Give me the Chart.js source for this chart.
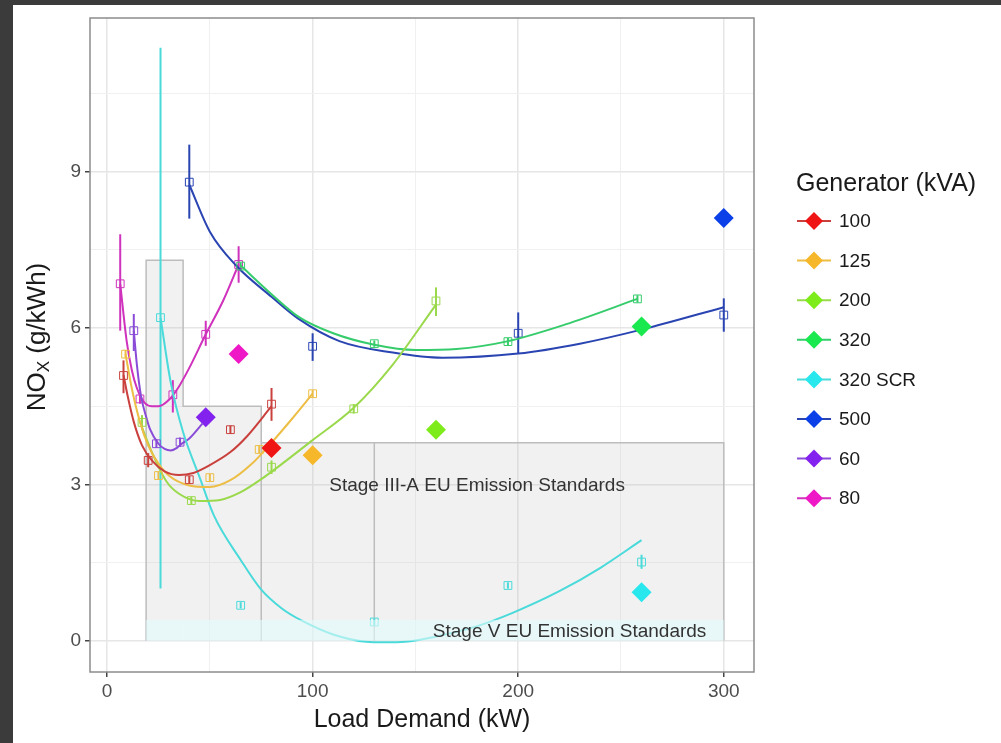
<!DOCTYPE html>
<html>
<head>
<meta charset="utf-8">
<script src="https://cdn.jsdelivr.net/npm/chart.js@4.4.0/dist/chart.umd.min.js"></script>
<style>
  html, body { margin: 0; padding: 0; background: #3b3b3b; overflow: hidden; }
  #frame { position: absolute; left: 13px; top: 5px; width: 988px; height: 738px; background: #fff; }
  #wrap { position: absolute; left: 0; top: 0; width: 1001px; height: 743px; }
</style>
</head>
<body>
<div id="frame"></div>
<div id="wrap"><canvas id="chartCanvas"></canvas></div>
<script>
// Generators (legend order)
const generators = ['100', '125', '200', '320', '320 SCR', '500', '60', '80'];

// Measured points (small squares) and their error bars
const pointX = [
  [8, 20, 40, 60, 80],
  [9, 25, 50, 74, 100],
  [17, 41, 80, 120, 160],
  [65, 130, 195, 258],
  [26, 65, 130, 195, 260],
  [40, 100, 200, 300],
  [13, 24, 35.5],
  [6.4, 16, 32, 48, 64]
];
const pointY = [
  [5.09, 3.46, 3.09, 4.05, 4.54],
  [5.5, 3.17, 3.13, 3.67, 4.74],
  [4.19, 2.69, 3.33, 4.45, 6.52],
  [7.19, 5.7, 5.74, 6.56],
  [6.2, 0.68, 0.36, 1.06, 1.51],
  [8.8, 5.65, 5.9, 6.25],
  [5.95, 3.78, 3.81],
  [6.85, 4.64, 4.72, 5.88, 7.22]
];
const errLow = [
  [4.75, 3.33, 3.02, 3.97, 4.22],
  [5.42, 3.1, 3.06, 3.6, 4.67],
  [4.05, 2.62, 3.2, 4.36, 6.23],
  [7.12, 5.64, 5.67, 6.49],
  [1.0, 0.62, 0.3, 1.0, 1.38],
  [8.1, 5.37, 5.52, 5.93],
  [5.56, 3.7, 3.72],
  [5.95, 4.55, 4.38, 5.66, 6.87]
];
const errHigh = [
  [5.38, 3.6, 3.16, 4.13, 4.85],
  [5.58, 3.24, 3.2, 3.74, 4.81],
  [4.33, 2.76, 3.46, 4.54, 6.78],
  [7.26, 5.76, 5.81, 6.63],
  [11.38, 0.74, 0.42, 1.12, 1.65],
  [9.52, 5.9, 6.3, 6.57],
  [6.27, 3.87, 3.9],
  [7.8, 4.73, 5.0, 6.14, 7.57]
];

// Fitted curves
const fitX = [
  [8, 10, 13, 17, 22, 28, 35, 42, 50, 60, 68, 80],
  [9, 12, 16, 20, 25, 30, 40, 50, 60, 70, 80, 90, 100],
  [16, 22, 29, 35, 45, 55, 65, 75, 100, 120, 139, 160],
  [65, 80, 93, 110, 130, 150, 170, 194, 223, 258],
  [26, 31, 37, 45, 52, 65, 75, 85, 95, 110, 126, 135, 145, 160, 180, 197, 220, 240, 260],
  [40, 50, 63, 80, 93, 113, 139, 163, 200, 230, 260, 300],
  [13, 14.5, 16.5, 19, 21, 25, 28, 31, 34, 36, 40, 46.5],
  [6.4, 9.5, 12, 14.4, 18.4, 22, 25, 30.5, 35, 40.2, 48, 56.4, 64]
];
const fitY = [
  [5.1, 4.7, 4.2, 3.75, 3.45, 3.25, 3.18, 3.22, 3.37, 3.62, 3.92, 4.5],
  [5.5, 4.85, 4.2, 3.75, 3.4, 3.17, 2.98, 2.95, 3.08, 3.38, 3.8, 4.26, 4.74],
  [4.2, 3.6, 3.05, 2.82, 2.68, 2.7, 2.85, 3.1, 3.85, 4.47, 5.3, 6.45],
  [7.2, 6.65, 6.22, 5.9, 5.68, 5.58, 5.6, 5.74, 6.07, 6.56],
  [6.2, 4.95, 4.0, 3.14, 2.4, 1.55, 0.98, 0.62, 0.38, 0.12, -0.02, -0.03, -0.02, 0.08, 0.28, 0.53, 0.95, 1.4, 1.93],
  [8.75, 7.85, 7.19, 6.6, 6.18, 5.75, 5.53, 5.43, 5.51, 5.7, 5.97, 6.4],
  [5.95, 5.3, 4.7, 4.3, 4.05, 3.78, 3.68, 3.65, 3.7, 3.77, 3.88, 4.17],
  [6.85, 5.76, 5.2, 4.86, 4.56, 4.5, 4.5, 4.64, 4.88, 5.25, 5.88, 6.52, 7.22]
];

// Large diamonds
const diamondX = [80, 100, 160, 260, 260, 300, 48, 64];
const diamondY = [3.7, 3.56, 4.05, 6.03, 0.93, 8.11, 4.29, 5.5];

// EU emission limits (kW band edges and NOx limit per band)
const stageEdges = [19, 37, 75, 130, 300];
const stageLimits = [7.3, 4.5, 3.8, 3.8];
const stageDividers = [75, 130];
const stageVLimit = 0.4;

const xTicks = [0, 100, 200, 300];
const yTicks = [0, 3, 6, 9];

const lineColors = ['#C9403C', '#EDBE45', '#9AD94C', '#36CC6C', '#4ADADA', '#2A45B2', '#8A4CD8', '#CF32BC'];
const fillColors = ['#F01515', '#F6B82A', '#7EEC1A', '#19E84F', '#28E8EE', '#0B3FE8', '#8322EE', '#EE18C6'];
const FONT = '"Liberation Sans", Arial, Helvetica, sans-serif';

const datasets = [];
generators.forEach((g, i) => {
  datasets.push({
    type: 'line',
    label: g + ' fit',
    data: fitX[i].map((x, k) => ({ x: x, y: fitY[i][k] })),
    borderColor: lineColors[i],
    borderWidth: 2,
    pointRadius: 0,
    cubicInterpolationMode: 'monotone',
    fill: false,
  });
  datasets.push({
    type: 'scatter',
    label: g + ' obs',
    data: pointX[i].map((x, k) => ({ x: x, y: pointY[i][k] })),
    pointStyle: 'rect',
    pointRadius: 5.5,
    borderColor: lineColors[i],
    backgroundColor: 'rgba(0,0,0,0)',
    borderWidth: 1,
  });
  datasets.push({
    type: 'scatter',
    label: g,
    data: [{ x: diamondX[i], y: diamondY[i] }],
    pointStyle: 'rectRot',
    pointRadius: 10,
    backgroundColor: fillColors[i],
    borderColor: fillColors[i],
    borderWidth: 0,
  });
});

const isMajorX = v => xTicks.includes(v);
const isMajorY = v => yTicks.includes(v);

const stagePlugin = {
  id: 'stages',
  beforeDatasetsDraw(chart) {
    const { ctx, chartArea, scales: { x, y } } = chart;
    ctx.save();
    ctx.beginPath();
    ctx.rect(chartArea.left, chartArea.top, chartArea.right - chartArea.left, chartArea.bottom - chartArea.top);
    ctx.clip();
    // fill the stage III-A bands
    ctx.fillStyle = 'rgba(190,190,190,0.22)';
    for (let i = 0; i < stageLimits.length; i++) {
      const x0 = x.getPixelForValue(stageEdges[i]);
      const x1 = x.getPixelForValue(stageEdges[i + 1]);
      const yt = y.getPixelForValue(stageLimits[i]);
      ctx.fillRect(x0, yt, x1 - x0, y.getPixelForValue(0) - yt);
    }
    // step outline
    ctx.strokeStyle = '#BDBDBD';
    ctx.lineWidth = 1.5;
    ctx.beginPath();
    ctx.moveTo(x.getPixelForValue(stageEdges[0]), y.getPixelForValue(0));
    for (let i = 0; i < stageLimits.length; i++) {
      ctx.lineTo(x.getPixelForValue(stageEdges[i]), y.getPixelForValue(stageLimits[i]));
      ctx.lineTo(x.getPixelForValue(stageEdges[i + 1]), y.getPixelForValue(stageLimits[i]));
    }
    ctx.lineTo(x.getPixelForValue(stageEdges[stageEdges.length - 1]), y.getPixelForValue(0));
    stageDividers.forEach(d => {
      ctx.moveTo(x.getPixelForValue(d), y.getPixelForValue(3.8));
      ctx.lineTo(x.getPixelForValue(d), y.getPixelForValue(0));
    });
    ctx.stroke();

    // error bars
    ctx.lineWidth = 2;
    generators.forEach((g, i) => {
      ctx.strokeStyle = lineColors[i];
      pointX[i].forEach((px, k) => {
        const xp = x.getPixelForValue(px);
        ctx.beginPath();
        ctx.moveTo(xp, y.getPixelForValue(errLow[i][k]));
        ctx.lineTo(xp, y.getPixelForValue(errHigh[i][k]));
        ctx.stroke();
      });
    });
    ctx.restore();
  },
  afterDatasetsDraw(chart) {
    const { ctx, scales: { x, y } } = chart;
    ctx.save();
    const x0 = x.getPixelForValue(stageEdges[0]);
    const x1 = x.getPixelForValue(stageEdges[stageEdges.length - 1]);
    const yt = y.getPixelForValue(stageVLimit);
    ctx.fillStyle = 'rgba(226,252,252,0.6)';
    ctx.fillRect(x0, yt, x1 - x0, y.getPixelForValue(0) - yt);

    ctx.fillStyle = '#333';
    ctx.font = '19px ' + FONT;
    ctx.textAlign = 'center';
    ctx.textBaseline = 'middle';
    ctx.fillText('Stage III-A EU Emission Standards', x.getPixelForValue(180), y.getPixelForValue(2.97));
    ctx.fillText('Stage V EU Emission Standards', x.getPixelForValue(225), y.getPixelForValue(0.17));
    ctx.restore();
  },
  afterDraw(chart) {
    const { ctx, chartArea } = chart;
    ctx.save();
    // panel border
    ctx.strokeStyle = '#8C8C8C';
    ctx.lineWidth = 1.5;
    ctx.strokeRect(chartArea.left, chartArea.top, chartArea.right - chartArea.left, chartArea.bottom - chartArea.top);

    // axis titles
    ctx.fillStyle = '#1a1a1a';
    ctx.textBaseline = 'middle';
    ctx.textAlign = 'center';
    ctx.font = '25px ' + FONT;
    ctx.fillText('Load Demand (kW)', (chartArea.left + chartArea.right) / 2, 720);

    ctx.save();
    ctx.translate(38, 337);
    ctx.rotate(-Math.PI / 2);
    ctx.textAlign = 'left';
    const big = '26px ' + FONT, small = '17px ' + FONT;
    ctx.font = big;
    const w1 = ctx.measureText('NO').width;
    const w3 = ctx.measureText(' (g/kWh)').width;
    ctx.font = small;
    const w2 = ctx.measureText('X').width;
    let sx = -(w1 + w2 + w3) / 2;
    ctx.font = big;
    ctx.fillText('NO', sx, 0);
    ctx.font = small;
    ctx.fillText('X', sx + w1, 6);
    ctx.font = big;
    ctx.fillText(' (g/kWh)', sx + w1 + w2, 0);
    ctx.restore();

    // legend
    ctx.textAlign = 'left';
    ctx.font = '25px ' + FONT;
    ctx.fillText('Generator (kVA)', 796, 184);
    ctx.font = '19px ' + FONT;
    generators.forEach((g, i) => {
      const cy = 221 + i * 39.6;
      ctx.strokeStyle = lineColors[i];
      ctx.lineWidth = 2;
      ctx.beginPath();
      ctx.moveTo(797, cy);
      ctx.lineTo(831, cy);
      ctx.stroke();
      ctx.fillStyle = fillColors[i];
      ctx.beginPath();
      ctx.moveTo(814, cy - 9);
      ctx.lineTo(823, cy);
      ctx.lineTo(814, cy + 9);
      ctx.lineTo(805, cy);
      ctx.closePath();
      ctx.fill();
      ctx.fillStyle = '#1a1a1a';
      ctx.fillText(g, 839, cy + 1);
    });
    ctx.restore();
  }
};

const ctx = document.getElementById('chartCanvas').getContext('2d');
window.chart = new Chart(ctx, {
  type: 'scatter',
  data: { datasets: datasets },
  options: {
    responsive: true,
    maintainAspectRatio: false,
    animation: false,
    layout: { padding: { left: 0, right: 247, top: 18, bottom: 0 }, autoPadding: false },
    plugins: { legend: { display: false }, tooltip: { enabled: false } },
    scales: {
      x: {
        type: 'linear',
        min: -8.3,
        max: 314.7,
        afterFit: s => { s.height = 71; },
        ticks: {
          stepSize: 50,
          includeBounds: false,
          autoSkip: false,
          maxRotation: 0,
          padding: 3,
          color: '#4D4D4D',
          font: { size: 19, family: FONT },
          callback: v => (isMajorX(v) ? String(v) : ''),
        },
        grid: {
          color: c => (isMajorX(c.tick.value) ? '#E6E6E6' : '#F0F0F0'),
          lineWidth: c => (isMajorX(c.tick.value) ? 1.5 : 1),
          tickColor: c => (isMajorX(c.tick.value) ? '#444' : 'rgba(0,0,0,0)'),
          tickLength: 5,
        },
        border: { display: false },
      },
      y: {
        type: 'linear',
        min: -0.6,
        max: 11.95,
        afterFit: s => { s.width = 90; },
        ticks: {
          stepSize: 1.5,
          includeBounds: false,
          autoSkip: false,
          padding: 4,
          color: '#4D4D4D',
          font: { size: 19, family: FONT },
          callback: v => (isMajorY(v) ? String(v) : ''),
        },
        grid: {
          color: c => (isMajorY(c.tick.value) ? '#E6E6E6' : '#F0F0F0'),
          lineWidth: c => (isMajorY(c.tick.value) ? 1.5 : 1),
          tickColor: c => (isMajorY(c.tick.value) ? '#444' : 'rgba(0,0,0,0)'),
          tickLength: 5,
        },
        border: { display: false },
      },
    },
  },
  plugins: [stagePlugin],
});
</script>
</body>
</html>
